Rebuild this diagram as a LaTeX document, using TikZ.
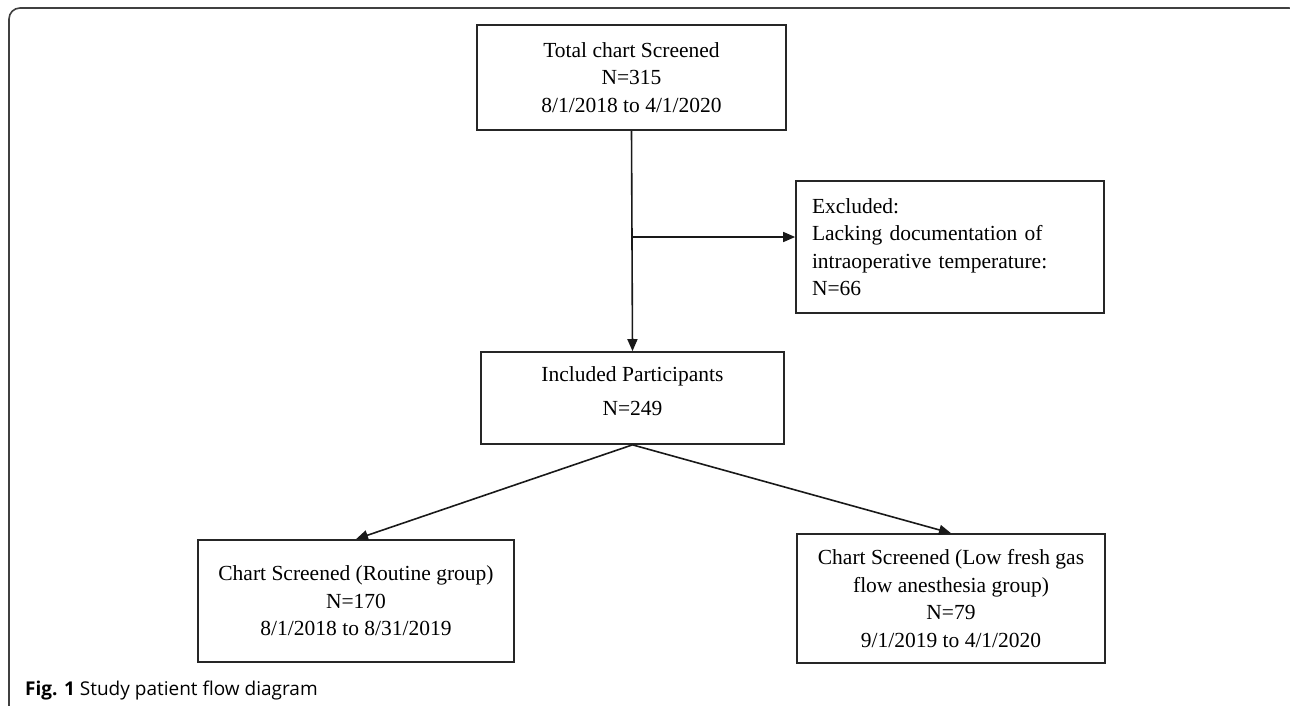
\documentclass[tikz,border=0pt]{standalone}
\usepackage{fontspec}
\setmainfont{Liberation Serif}
\newfontfamily\capfont{Open Sans}
\usetikzlibrary{arrows.meta}
\begin{document}
\begin{tikzpicture}[x=1pt,y=-1pt,
  box/.style={draw=black!85, line width=1.7pt, fill=white, inner sep=0pt, align=center,
    font=\fontsize{21.5}{27.5}\selectfont},
  conn/.style={line width=1.6pt, draw=black!90},
  arr/.style={conn, -{Triangle[length=12pt,width=10pt]}}]
\clip (0,0) rectangle (1290,706);
\useasboundingbox (0,0) rectangle (1290,706);
\draw[line width=1.6pt, draw=black!75, rounded corners=11pt] (9,8) rectangle (1300,718);

\node[box, minimum width=309pt, minimum height=105pt] (total) at (631.5,77.5)
  {Total chart Screened\\N=315\\8/1/2018 to 4/1/2020};
\node[box, minimum width=308pt, minimum height=132pt, align=left, text width=276pt] (excl) at (950,247)
  {Excluded:\\Lacking documentation of\\intraoperative temperature:\\N=66};
\node[box, minimum width=303pt, minimum height=92pt, text depth=14pt] (incl) at (632.5,398)
  {Included Participants\\[7pt]N=249};
\node[box, minimum width=316pt, minimum height=122pt] (rout) at (356,601)
  {Chart Screened (Routine group)\\N=170\\8/1/2018 to 8/31/2019};
\node[box, minimum width=308pt, minimum height=129pt] (low) at (951,598.5)
  {Chart Screened (Low fresh gas\\flow anesthesia group)\\N=79\\9/1/2019 to 4/1/2020};

\coordinate (br) at (632,237);
\draw[arr] (total.south) -- (incl.north);
\draw[arr] (br) -- (br -| excl.west);
\draw[arr] (incl.south) -- (rout.north);
\draw[arr] (incl.south) -- (low.north);

\node[anchor=base west, inner sep=0pt, font=\capfont\fontsize{19}{22}\selectfont] (cap) at (25,695)
  {\textbf{Fig. 1} Study patient flow diagram};
\end{tikzpicture}
\end{document}
